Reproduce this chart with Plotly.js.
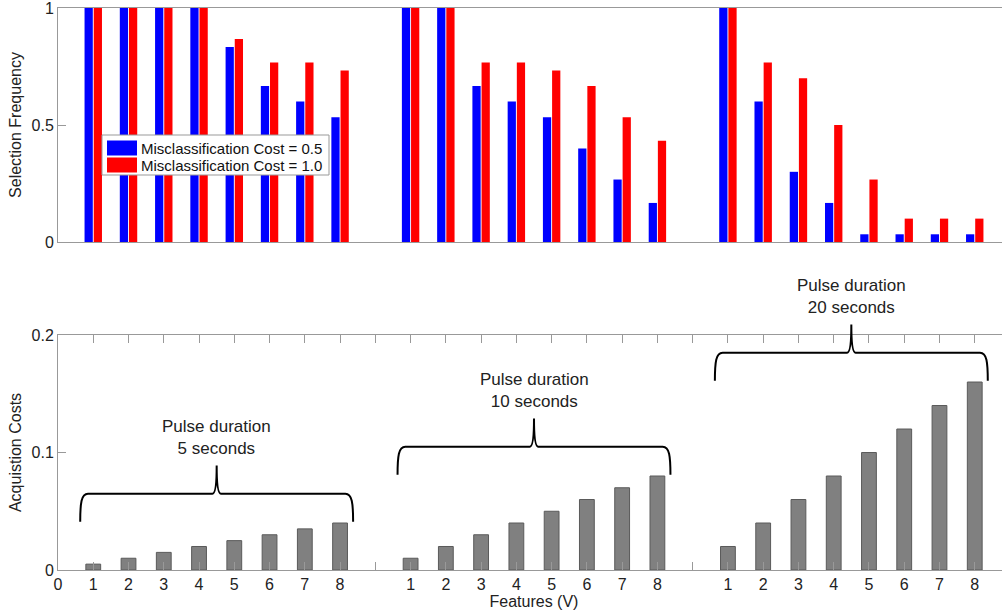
<!DOCTYPE html>
<html>
<head>
<meta charset="utf-8">
<script src="https://cdn.plot.ly/plotly-3.0.1.min.js"></script>
<style>
  html, body { margin: 0; padding: 0; background: #fff; overflow: hidden; }
  #chart { width: 1010px; height: 611px; }
</style>
</head>
<body>
<div id="chart"></div>
<script>
// ---------- data ----------
var featureLabels = ['1', '2', '3', '4', '5', '6', '7', '8'];
var groupNames = ['5 seconds', '10 seconds', '20 seconds'];

// Selection frequency, misclassification cost = 0.5
var freqCost05_5s  = [1, 1, 1, 1, 0.833, 0.667, 0.6, 0.533];
var freqCost05_10s = [1, 1, 0.667, 0.6, 0.533, 0.4, 0.267, 0.167];
var freqCost05_20s = [1, 0.6, 0.3, 0.167, 0.033, 0.033, 0.033, 0.033];

// Selection frequency, misclassification cost = 1.0
var freqCost10_5s  = [1, 1, 1, 1, 0.867, 0.767, 0.767, 0.733];
var freqCost10_10s = [1, 1, 0.767, 0.767, 0.733, 0.667, 0.533, 0.433];
var freqCost10_20s = [1, 0.767, 0.7, 0.5, 0.267, 0.1, 0.1, 0.1];

// Acquisition costs
var cost5s  = [0.005, 0.01, 0.015, 0.02, 0.025, 0.03, 0.035, 0.04];
var cost10s = [0.01, 0.02, 0.03, 0.04, 0.05, 0.06, 0.07, 0.08];
var cost20s = [0.02, 0.04, 0.06, 0.08, 0.1, 0.12, 0.14, 0.16];

var legendNames = ['Misclassification Cost = 0.5', 'Misclassification Cost = 1.0'];
var seriesColors = ['#0000ff', '#ff0000'];

// ---------- build positions (8 features per group, one empty slot between groups) ----------
var slotsPerGroup = featureLabels.length + 1;
var xPos = [], tickVals = [0], tickText = ['0'];
for (var g = 0; g < groupNames.length; g++) {
  for (var f = 0; f < featureLabels.length; f++) {
    xPos.push(g * slotsPerGroup + f + 1);
  }
}
for (var t = 1; t <= slotsPerGroup * groupNames.length - 1; t++) {
  tickVals.push(t);
  var rem = t % slotsPerGroup;
  tickText.push(rem === 0 ? '' : featureLabels[rem - 1]);
}
var freq05 = freqCost05_5s.concat(freqCost05_10s, freqCost05_20s);
var freq10 = freqCost10_5s.concat(freqCost10_10s, freqCost10_20s);
var costs = cost5s.concat(cost10s, cost20s);
var costGroups = [cost5s, cost10s, cost20s];

var FONT = 'Arial, "Liberation Sans", Helvetica, sans-serif';
var costMax = 0.2;
var xMax = 27;

// figure geometry
var W = 1010, H = 611;
var M = { l: 58, r: 0, t: 8, b: 41 };
var plotW = W - M.l - M.r, plotH = H - M.t - M.b;
var botDomain = [0, 0.4181], topDomain = [0.5836, 1];
function pxX(px) { return (px - M.l) / plotW; }
function pxY(py) { return (H - M.b - py) / plotH; }
function costToPaper(v) { return botDomain[0] + (v / costMax) * (botDomain[1] - botDomain[0]); }

var traces = [
  { type: 'bar', x: xPos, y: freq05, name: legendNames[0], xaxis: 'x', yaxis: 'y', showlegend: false,
    marker: { color: seriesColors[0], line: { width: 0 } } },
  { type: 'bar', x: xPos, y: freq10, name: legendNames[1], xaxis: 'x', yaxis: 'y', showlegend: false,
    marker: { color: seriesColors[1], line: { width: 0 } } },
  { type: 'bar', x: xPos, y: costs, name: 'Acquisition costs', xaxis: 'x2', yaxis: 'y2',
    width: 0.42, showlegend: false,
    marker: { color: '#808080', line: { width: 1, color: '#5a5a5a' } } }
];

// ---------- braces and labels ----------
var shapes = [], annotations = [];
for (var g = 0; g < costGroups.length; g++) {
  var xc = g * slotsPerGroup + (featureLabels.length + 1) / 2;
  var half = 3.87;
  var groupMax = Math.max.apply(null, costGroups[g]);
  var yb = costToPaper(groupMax + 0.001), yh = costToPaper(groupMax + 0.025), yt = costToPaper(groupMax + 0.049);
  var dy = costToPaper(0.008) - costToPaper(0);
  var x0 = xc - half, x1 = xc + half;
  var d = 'M' + x0 + ',' + yb +
          ' C' + x0 + ',' + (yh - dy) + ' ' + (x0 + 0.03) + ',' + yh + ' ' + (x0 + 0.22) + ',' + yh +
          ' L' + (xc - 0.12) + ',' + yh +
          ' Q' + xc + ',' + yh + ' ' + xc + ',' + yt +
          ' Q' + xc + ',' + yh + ' ' + (xc + 0.12) + ',' + yh +
          ' L' + (x1 - 0.22) + ',' + yh +
          ' C' + (x1 - 0.03) + ',' + yh + ' ' + x1 + ',' + (yh - dy) + ' ' + x1 + ',' + yb;
  shapes.push({ type: 'path', xref: 'x2', yref: 'paper', path: d,
                line: { color: '#000', width: 2 } });
  annotations.push({ xref: 'x2', yref: 'paper', x: xc, y: costToPaper(groupMax + 0.073),
                     xanchor: 'center', yanchor: 'middle',
                     text: 'Pulse duration<br>' + groupNames[g], showarrow: false,
                     font: { family: FONT, size: 17, color: '#222' }, align: 'center' });
}

// ---------- legend (drawn as a box with swatches) ----------
shapes.push({ type: 'rect', xref: 'paper', yref: 'paper', layer: 'above',
  x0: pxX(102), x1: pxX(329), y0: pxY(175), y1: pxY(135),
  fillcolor: '#fff', line: { color: '#999', width: 1 } });
var rowY = [148, 165];
for (var i = 0; i < legendNames.length; i++) {
  shapes.push({ type: 'rect', xref: 'paper', yref: 'paper', layer: 'above',
    x0: pxX(107), x1: pxX(137), y0: pxY(rowY[i] + 7.5), y1: pxY(rowY[i] - 7.5),
    fillcolor: seriesColors[i], line: { width: 0 } });
  annotations.push({ xref: 'paper', yref: 'paper', x: pxX(139), y: pxY(rowY[i]),
    xanchor: 'left', yanchor: 'middle', showarrow: false, text: legendNames[i],
    font: { family: FONT, size: 15, color: '#111' } });
}

var axisCommon = {
  showline: true, linecolor: '#999', linewidth: 1, mirror: 'ticks',
  zeroline: false, showgrid: false, ticks: 'inside', tickcolor: '#999', ticklen: 8,
  tickfont: { family: FONT, size: 16, color: '#222' }, ticklabeloverflow: 'allow'
};

var layout = {
  width: W, height: H,
  margin: M,
  paper_bgcolor: '#fff', plot_bgcolor: '#fff',
  barmode: 'group', bargap: 0.48, bargroupgap: 0.1,
  font: { family: FONT, color: '#222' },
  showlegend: false,
  xaxis: Object.assign({}, axisCommon, {
    domain: [0, 1], range: [0, xMax], anchor: 'y', ticks: '', showticklabels: false, mirror: true
  }),
  yaxis: Object.assign({}, axisCommon, {
    domain: topDomain, range: [0, 1], anchor: 'x',
    tickvals: [0, 0.5, 1], ticktext: ['0', '0.5', '1'],
    title: { text: 'Selection Frequency', font: { family: FONT, size: 16, color: '#222' }, standoff: 5 }
  }),
  xaxis2: Object.assign({}, axisCommon, {
    domain: [0, 1], range: [0, xMax], anchor: 'y2',
    tickvals: tickVals, ticktext: tickText,
    title: { text: 'Features (V)', font: { family: FONT, size: 16, color: '#222' }, standoff: 1 }
  }),
  yaxis2: Object.assign({}, axisCommon, {
    domain: botDomain, range: [0, costMax], anchor: 'x2',
    tickvals: [0, 0.1, 0.2], ticktext: ['0', '0.1', '0.2'],
    title: { text: 'Acquistion Costs', font: { family: FONT, size: 16, color: '#222' }, standoff: 5 }
  }),
  shapes: shapes,
  annotations: annotations
};

Plotly.newPlot('chart', traces, layout, { staticPlot: true, displayModeBar: false });
</script>
</body>
</html>
